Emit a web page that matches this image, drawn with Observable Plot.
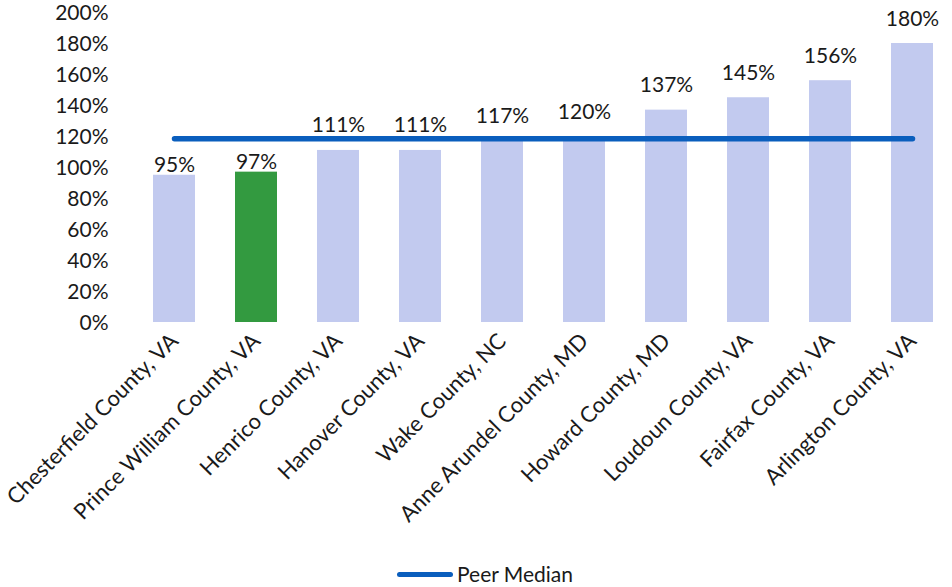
<!DOCTYPE html>
<html>
<head>
<meta charset="utf-8">
<script src="https://cdn.jsdelivr.net/npm/d3@7"></script>
<script src="https://cdn.jsdelivr.net/npm/@observablehq/plot@0.6"></script>
<style>
  html, body { margin: 0; padding: 0; background: #fff; }
  #chart { width: 952px; font-family: Lato, "Open Sans", sans-serif; }
  #chart svg { display: block; }
  .legend { display: flex; align-items: center; justify-content: flex-start; height: 22px;
            padding-left: 397px; font: 21px/22px Lato, "Open Sans", sans-serif; color: #1a1a1a; }
  .legend .swatch { width: 56px; height: 5px; border-radius: 3px; background: #0A5EBD; margin-right: 4px; }
</style>
</head>
<body>
<div id="chart"></div>
<script>
// Counties, ordered by value
const counties = [
  "Chesterfield County, VA",
  "Prince William County, VA",
  "Henrico County, VA",
  "Hanover County, VA",
  "Wake County, NC",
  "Anne Arundel County, MD",
  "Howard County, MD",
  "Loudoun County, VA",
  "Fairfax County, VA",
  "Arlington County, VA"
];
// Ratio values, in percent
const values = [95, 97, 111, 111, 117, 120, 137, 145, 156, 180];
const highlighted = "Prince William County, VA";
const peerMedian = 118.5;
const yTicks = [0, 20, 40, 60, 80, 100, 120, 140, 160, 180, 200];

const data = counties.map((c, i) => ({county: c, value: values[i], i}));
const medianLine = [
  {county: counties[0], value: peerMedian},
  {county: counties[counties.length - 1], value: peerMedian}
];

const textColor = "#1a1a1a";
const fs = 21;
const label = d => `${d.value}%`;

const chart = Plot.plot({
  width: 952,
  height: 563,
  marginTop: 12,
  marginBottom: 241,
  marginLeft: 131,
  marginRight: 0,
  style: {fontFamily: "Lato, 'Open Sans', sans-serif", fontSize: `${fs}px`, color: textColor, background: "#fff", overflow: "visible"},
  x: {domain: counties, range: [131, 955], paddingInner: 0.49, paddingOuter: 0.243, label: null, axis: null},
  y: {domain: [0, 200], label: null, axis: null},
  marks: [
    Plot.gridY(yTicks, {stroke: "#D9D9D9", strokeOpacity: 1, strokeWidth: 1.5, x1: 131, x2: 952}),
    Plot.barY(data, {
      x: "county", y: "value",
      fill: d => d.county === highlighted ? "#339A40" : "#C2CAEF"
    }),
    Plot.line(medianLine, {
      x: "county", y: "value",
      stroke: "#0A5EBD", strokeWidth: 5.5, strokeLinecap: "round"
    }),
    // value labels: the two lowest sit close to their bars, the rest clear the median line
    Plot.text(data, {
      filter: d => d.i < 2,
      x: "county", y: "value", text: label,
      lineAnchor: "bottom", dy: -3, fontSize: fs, fill: textColor
    }),
    Plot.text(data, {
      filter: d => d.i >= 2,
      x: "county", y: "value", text: label,
      lineAnchor: "bottom", dy: -18, fontSize: fs, fill: textColor
    }),
    Plot.axisY(yTicks, {
      tickSize: 0, tickPadding: 23, fontSize: fs, fill: textColor, dy: 1,
      tickFormat: d => `${d}%`
    }),
    Plot.axisX({
      tickSize: 0, tickRotate: -45, tickPadding: 15, fontSize: 22, fill: textColor, dx: 0
    })
  ]
});

document.getElementById("chart").append(chart);

const legend = document.createElement("div");
legend.className = "legend";
legend.innerHTML = '<span class="swatch"></span><span>Peer Median</span>';
document.getElementById("chart").append(legend);
</script>
</body>
</html>
